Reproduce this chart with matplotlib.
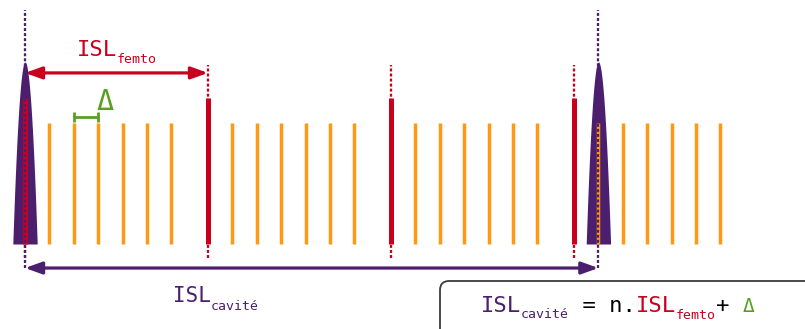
import matplotlib.pyplot as plt
import numpy as np
from matplotlib.patches import FancyArrowPatch, FancyBboxPatch
from matplotlib.transforms import offset_copy, IdentityTransform

# valeurs en unités de Delta
delta = 1.0
isl_femto = 7.5
n = 3
femto_pulses = [0.0, 7.5, 15.0, 22.5]
cavity_peaks = [0.0, 23.5]
mode_offsets = [1, 2, 3, 4, 5, 6]
peak_height = 1.0
femto_height = 0.8
mode_height = 0.667
peak_halfwidth = 0.5

RED = '#c8001e'
ORANGE = '#ff9814'
PURPLE = '#4b1f6e'
GREEN = '#5a9f22'
MONO = 'DejaVu Sans Mono'

isl_cavite = n * isl_femto + delta
modes = [p + k * delta for p in femto_pulses for k in mode_offsets]

fig = plt.figure(figsize=(8.05, 3.29), dpi=100)
ax = fig.add_axes([0, 0, 1, 1])
ax.set_xlim(-25 / 24.4, 780 / 24.4)
ax.set_ylim(-85 / 182, 244 / 182)
ax.axis('off')

dots = (0, (1.3, 0.9))

# pointillés au-dessus / dessous des impulsions femto
ax.vlines(femto_pulses, -0.077, 0.984, colors=RED, lw=1.65, linestyles=dots, zorder=1)

# pics de la cavité
for c in cavity_peaks:
    u = np.linspace(-peak_halfwidth, peak_halfwidth, 101)
    ax.fill_between(c + u, 0, peak_height * (1 - (u / peak_halfwidth) ** 2),
                    color=PURPLE, lw=0, zorder=2)

# peigne
ax.vlines(modes, 0, mode_height, colors=ORANGE, lw=2.5, capstyle='butt', zorder=3)
ax.vlines(femto_pulses, 0, femto_height, colors=RED, lw=3.6, capstyle='butt', zorder=3)

ax.vlines(cavity_peaks, -0.132, 1.286, colors=PURPLE, lw=1.65, linestyles=dots, zorder=4)


def arrow(x0, x1, y, color):
    a = FancyArrowPatch((x0, y), (x1, y), arrowstyle='<|-|>,head_length=1.0,head_width=0.36',
                        mutation_scale=10, lw=2.3, color=color, shrinkA=0, shrinkB=0, zorder=5)
    ax.add_patch(a)


arrow(femto_pulses[0], femto_pulses[1], 0.94, RED)
arrow(cavity_peaks[0], cavity_peaks[1], -0.132, PURPLE)

# crochet Delta
m0 = femto_pulses[0] + 2 * delta
ax.plot([m0, m0 + delta], [0.696, 0.696], color=GREEN, lw=2, solid_capstyle='butt', zorder=5)
ax.vlines([m0, m0 + delta], 0.668, 0.724, colors=GREEN, lw=2, zorder=5)
ax.text(m0 + delta + 0.27, 0.736, 'Δ', family=MONO, size=20.5, color=GREEN,
        ha='center', va='baseline')


def rich_text(x, y, parts, ha='left'):
    widths = [0.602 * size * len(txt) for txt, col, size, dy in parts]
    pos = -sum(widths) / 2 if ha == 'center' else 0
    for (txt, col, size, dy), w in zip(parts, widths):
        tr = offset_copy(ax.transData, fig=fig, x=pos, y=dy, units='points')
        ax.text(x, y, txt, transform=tr, family=MONO, size=size, color=col,
                ha='left', va='baseline')
        pos += w


rich_text(isl_femto / 2, 1.033, [('ISL', RED, 16, 0), ('femto', RED, 9.5, -4.7)], ha='center')
rich_text(6.07, -0.32, [('ISL', PURPLE, 15, 0), ('cavité', PURPLE, 9.5, -5.5)])

# encadré de la formule
box = FancyBboxPatch((440, -40), 480, 88, boxstyle='round,pad=0,rounding_size=9',
                     transform=IdentityTransform(), fc='white', ec='#3c3c3c', lw=1.3, zorder=6)
ax.add_patch(box)
rich_text(18.69, -0.372, [('ISL', PURPLE, 16, 0), ('cavité', PURPLE, 9.5, -4.7),
                          (' = n.', 'black', 16, 0), ('ISL', RED, 16, 0),
                          ('femto', RED, 9.5, -5.5), ('+ ', 'black', 16, 0),
                          ('Δ', GREEN, 14, 0)])
for t in ax.texts:
    t.set_zorder(7)

fig.savefig('out.png', dpi=100)
